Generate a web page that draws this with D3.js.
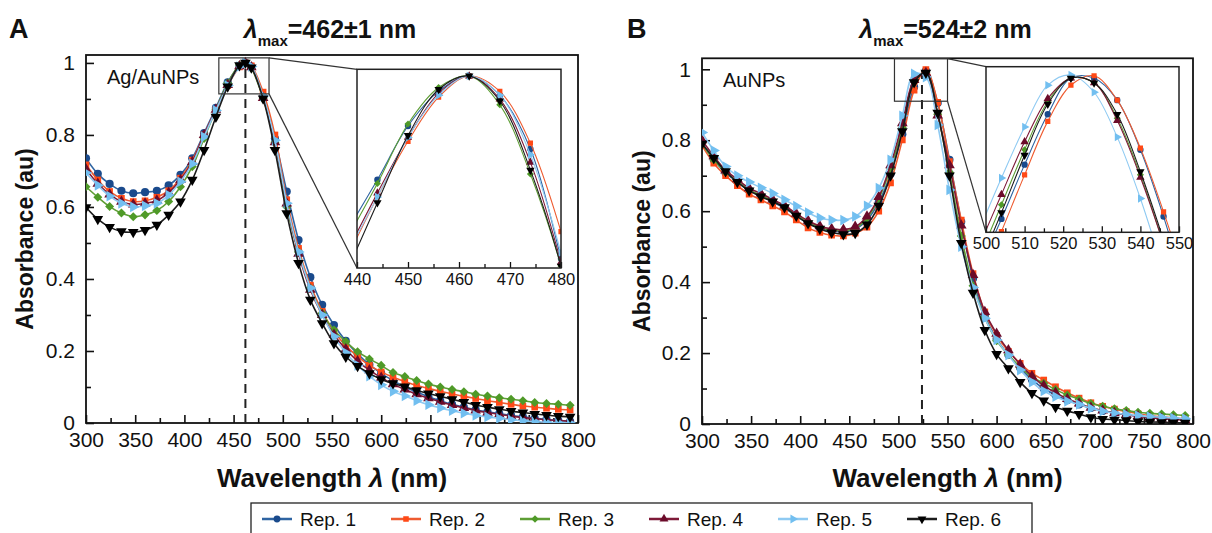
<!DOCTYPE html>
<html><head><meta charset="utf-8">
<script src="https://cdn.jsdelivr.net/npm/d3@7"></script>
<style>body{margin:0;background:#fff}svg{display:block;font-family:"Liberation Sans",Arial,sans-serif}</style>
</head><body><svg id="c" width="1212" height="533"></svg>
<script>
// ---------- DATA ----------
const seriesNames = ["Rep. 1","Rep. 2","Rep. 3","Rep. 4","Rep. 5","Rep. 6"];
const xTicks = [300,350,400,450,500,550,600,650,700,750,800];
const yTicks = [0,0.2,0.4,0.6,0.8,1];
const insetTicksA = [440,450,460,470,480];
const insetTicksB = [500,510,520,530,540,550];

// Panel A (Ag/AuNPs)
const wavelengthsA = [300,312,324,336,348,360,372,384,396,408,420,432,444,456,462,468,480,492,504,516,528,540,552,564,576,588,600,612,624,636,648,660,672,684,696,708,720,732,744,756,768,780,792];
const rep1A = [.735,.692,.664,.645,.638,.641,.645,.660,.689,.735,.805,.875,.946,.992,1.0,.990,.905,.790,.643,.508,.405,.328,.272,.228,.192,.162,.138,.118,.100,.086,.073,.062,.052,.044,.037,.031,.026,.021,.017,.013,.010,.007,.005];
const rep2A = [.717,.675,.643,.624,.615,.617,.627,.645,.680,.730,.800,.870,.937,.989,1.0,.992,.919,.800,.620,.485,.383,.310,.255,.215,.185,.160,.142,.127,.115,.104,.096,.088,.081,.074,.068,.062,.057,.052,.047,.044,.041,.038,.036];
const rep3A = [.656,.627,.601,.583,.573,.578,.590,.615,.656,.712,.790,.870,.944,.994,1.0,.985,.901,.780,.600,.475,.375,.305,.258,.226,.198,.178,.160,.140,.129,.118,.108,.100,.093,.087,.080,.075,.070,.066,.062,.057,.054,.052,.049];
const rep4A = [.705,.665,.635,.615,.607,.610,.618,.640,.675,.725,.800,.870,.939,.991,1.0,.988,.903,.780,.610,.470,.370,.300,.245,.205,.172,.147,.126,.108,.093,.080,.069,.059,.050,.042,.035,.029,.024,.019,.015,.012,.009,.007,.005];
const rep5A = [.695,.660,.630,.610,.600,.603,.610,.633,.670,.720,.795,.868,.937,.990,1.0,.990,.908,.785,.610,.475,.375,.300,.240,.195,.160,.130,.106,.088,.075,.062,.051,.042,.034,.027,.021,.017,.013,.009,.006,.004,.002,.001,.000];
const rep6A = [.599,.566,.544,.532,.530,.536,.550,.578,.615,.675,.758,.850,.934,.993,1.0,.987,.901,.758,.582,.444,.342,.277,.221,.184,.158,.138,.121,.110,.101,.091,.082,.074,.066,.058,.050,.044,.038,.033,.029,.025,.022,.019,.017];

const insetWavelengthsA = [438,444,450,456,462,468,474,480,486];
const rep1InsetA = [.919,.946,.974,.992,1.0,.990,.962,.905,.840];
const rep2InsetA = [.905,.937,.966,.989,1.0,.992,.965,.919,.860];
const rep3InsetA = [.915,.944,.975,.994,1.0,.985,.949,.901,.835];
const rep4InsetA = [.908,.939,.968,.991,1.0,.988,.955,.903,.840];
const rep5InsetA = [.907,.937,.968,.990,1.0,.990,.959,.908,.845];
const rep6InsetA = [.898,.934,.969,.993,1.0,.987,.951,.901,.835];

// Panel B (AuNPs)
const wavelengthsB = [300,312,324,336,348,360,372,384,396,408,420,432,444,456,468,480,492,504,516,528,540,552,564,576,588,600,612,624,636,648,660,672,684,696,708,720,732,744,756,768,780,792];
const rep1B = [.790,.745,.708,.683,.658,.643,.626,.609,.587,.566,.552,.544,.542,.549,.575,.625,.705,.817,.950,.996,.905,.745,.570,.410,.305,.240,.195,.158,.125,.100,.082,.067,.055,.045,.037,.031,.026,.022,.019,.016,.014,.012];
const rep2B = [.785,.735,.700,.672,.648,.632,.615,.598,.575,.553,.540,.532,.530,.538,.555,.600,.680,.801,.941,.999,.907,.740,.575,.424,.316,.250,.205,.171,.143,.124,.105,.088,.073,.060,.050,.042,.035,.029,.024,.020,.017,.014];
const rep3B = [.790,.745,.710,.685,.660,.645,.628,.612,.590,.570,.555,.547,.545,.552,.580,.635,.720,.835,.966,.990,.873,.710,.530,.390,.300,.235,.195,.160,.133,.115,.097,.082,.070,.058,.050,.043,.038,.033,.030,.028,.026,.024];
const rep4B = [.800,.755,.715,.690,.665,.650,.633,.616,.593,.573,.558,.550,.548,.556,.585,.640,.730,.848,.970,.990,.870,.730,.560,.420,.316,.255,.208,.168,.135,.108,.088,.071,.058,.046,.038,.031,.026,.022,.018,.015,.013,.011];
const rep5B = [.822,.771,.726,.700,.682,.666,.650,.632,.614,.596,.581,.575,.575,.585,.615,.665,.745,.869,.987,.978,.843,.660,.500,.385,.298,.237,.194,.152,.118,.093,.077,.064,.055,.044,.036,.031,.027,.024,.021,.019,.017,.015];
const rep6B = [.790,.750,.712,.682,.658,.641,.627,.611,.587,.566,.550,.540,.535,.538,.562,.615,.700,.825,.963,.990,.877,.700,.510,.370,.265,.197,.157,.118,.087,.066,.048,.037,.028,.019,.014,.012,.010,.007,.006,.005,.004,.003];

const insetWavelengthsB = [498,504,510,516,522,528,534,540,546,552];
const rep1InsetB = [.750,.817,.886,.950,.996,.996,.968,.905,.820,.720];
const rep2InsetB = [.730,.801,.873,.941,.987,.999,.968,.907,.826,.735];
const rep3InsetB = [.765,.835,.905,.966,.996,.990,.945,.873,.785,.690];
const rep4InsetB = [.780,.848,.915,.970,.996,.990,.942,.870,.785,.690];
const rep5InsetB = [.800,.869,.934,.987,1.0,.978,.921,.843,.750,.650];
const rep6InsetB = [.755,.825,.898,.963,.996,.990,.950,.877,.790,.695];

const peakA = 462, peakB = 524;

// ---------- STYLE ----------
const styles = [
  {line:"#2f64a2", fill:"#1a4a8c", sym:d3.symbolCircle, rot:0, k:1.0},
  {line:"#ee5b30", fill:"#ff4916", sym:d3.symbolSquare, rot:0, k:0.85},
  {line:"#5e9e35", fill:"#4f9a28", sym:d3.symbolDiamond2, rot:0, k:1.0},
  {line:"#7e1a38", fill:"#6b0b2a", sym:d3.symbolTriangle, rot:0, k:0.95},
  {line:"#8fcaf2", fill:"#72bff0", sym:d3.symbolTriangle, rot:90, k:0.95},
  {line:"#1c1c1c", fill:"#000000", sym:d3.symbolTriangle, rot:180, k:0.95}
];
const FONT = '"Liberation Sans", Arial, sans-serif';
const svg = d3.select("#c");

function drawSeries(g, x, y, wl, vals, s, size, lw, keep) {
  const line = d3.line().x((d,i)=>x(wl[i])).y(d=>y(d)).curve(d3.curveCatmullRom.alpha(0.5));
  g.append("path").datum(vals).attr("d", line).attr("fill","none")
    .attr("stroke", s.line).attr("stroke-width", lw);
  const sym = d3.symbol().type(s.sym).size(size*s.k);
  g.selectAll(null).data(vals.map((v,i)=>[wl[i],v]).filter(keep)).join("path")
    .attr("d", sym)
    .attr("transform", d=>`translate(${x(d[0])},${y(d[1])}) rotate(${s.rot})`)
    .attr("fill", s.fill);
}

function panel(cfg) {
  const x = d3.scaleLinear().domain([300,800]).range([cfg.x0, cfg.x1]);
  const y = d3.scaleLinear().domain([0, cfg.ytop]).range([cfg.y0, cfg.y1]);
  const g = svg.append("g");
  const cid = "clip"+cfg.id;
  svg.append("clipPath").attr("id", cid).append("rect")
    .attr("x", cfg.x0).attr("y", cfg.y1).attr("width", cfg.x1-cfg.x0).attr("height", cfg.y0-cfg.y1);

  // axes
  g.append("g").attr("transform",`translate(0,${cfg.y0})`)
    .call(d3.axisBottom(x).tickValues(xTicks).tickSize(-8).tickPadding(9).tickFormat(d3.format("d")));
  g.append("g").attr("transform",`translate(0,${cfg.y0})`)
    .call(d3.axisBottom(x).tickValues(d3.range(325,800,50)).tickSize(-5).tickFormat(""));
  g.append("g").attr("transform",`translate(${cfg.x0},0)`)
    .call(d3.axisLeft(y).tickValues(yTicks).tickSize(-8).tickPadding(11)
      .tickFormat(d=> d===0?"0":(d===1?"1":d.toFixed(1))));
  g.append("g").attr("transform",`translate(${cfg.x0},0)`)
    .call(d3.axisLeft(y).tickValues([0.1,0.3,0.5,0.7,0.9]).tickSize(-5).tickFormat(""));
  g.selectAll(".domain").remove();
  g.selectAll(".tick line").attr("stroke","#111").attr("stroke-width",1.6);
  g.selectAll(".tick text").attr("font-family",FONT).attr("font-size",21).attr("fill","#111");

  // frame
  g.append("rect").attr("x",cfg.x0).attr("y",cfg.y1).attr("width",cfg.x1-cfg.x0).attr("height",cfg.y0-cfg.y1)
    .attr("fill","none").attr("stroke","#111").attr("stroke-width",1.8);

  // dashed peak line
  g.append("line").attr("x1",x(cfg.peak)).attr("x2",x(cfg.peak)).attr("y1",y(0)).attr("y2",y(1))
    .attr("stroke","#222").attr("stroke-width",2).attr("stroke-dasharray","9,6");

  // curves
  const gc = g.append("g").attr("clip-path",`url(#${cid})`);
  cfg.series.forEach((vals,i)=> drawSeries(gc, x, y, cfg.wl, vals, styles[i], 52, 1.6, ()=>true));

  // zoom box
  const bx0 = x(cfg.box[0]), bx1 = x(cfg.box[1]), by0 = y(cfg.box[3]), by1 = y(cfg.box[2]);
  g.append("rect").attr("x",bx0).attr("y",by0).attr("width",bx1-bx0).attr("height",by1-by0)
    .attr("fill","none").attr("stroke","#333").attr("stroke-width",1.2);

  // inset
  const ix = d3.scaleLinear().domain(cfg.inset.xd).range(cfg.inset.xr);
  const iy = d3.scaleLinear().domain(cfg.inset.yd).range(cfg.inset.yr);
  g.append("line").attr("x1",bx1).attr("y1",by0).attr("x2",cfg.inset.xr[0]).attr("y2",cfg.inset.yr[1])
    .attr("stroke","#333").attr("stroke-width",1.2);
  g.append("line").attr("x1",bx1).attr("y1",by1).attr("x2",cfg.inset.xr[0]).attr("y2",cfg.inset.yr[0])
    .attr("stroke","#333").attr("stroke-width",1.2);
  const gi = g.append("g");
  gi.append("rect").attr("x",cfg.inset.xr[0]).attr("y",cfg.inset.yr[1])
    .attr("width",cfg.inset.xr[1]-cfg.inset.xr[0]).attr("height",cfg.inset.yr[0]-cfg.inset.yr[1]).attr("fill","#fff");
  const icid = "iclip"+cfg.id;
  svg.append("clipPath").attr("id", icid).append("rect")
    .attr("x",cfg.inset.xr[0]).attr("y",cfg.inset.yr[1]-4)
    .attr("width",cfg.inset.xr[1]-cfg.inset.xr[0]).attr("height",cfg.inset.yr[0]-cfg.inset.yr[1]+4);
  const gic = gi.append("g").attr("clip-path",`url(#${icid})`);
  cfg.insetSeries.forEach((vals,i)=> drawSeries(gic, ix, iy, cfg.inset.wl, vals, styles[i], 32, 1.1,
    d=> d[0]>=cfg.inset.xd[0]+2 && d[0]<=cfg.inset.xd[1]));
  gi.append("g").attr("transform",`translate(0,${cfg.inset.yr[0]})`)
    .call(d3.axisBottom(ix).tickValues(cfg.inset.ticks).tickSize(-6).tickPadding(5).tickFormat(d3.format("d")));
  gi.append("g").attr("transform",`translate(0,${cfg.inset.yr[0]})`)
    .call(d3.axisBottom(ix).tickValues(cfg.inset.ticks.slice(0,-1).map(t=>t+5)).tickSize(-4).tickFormat(""));
  gi.selectAll(".domain").remove();
  gi.selectAll(".tick line").attr("stroke","#111").attr("stroke-width",1.3);
  gi.selectAll(".tick text").attr("font-family",FONT).attr("font-size",16.5).attr("fill","#111");
  gi.append("rect").attr("x",cfg.inset.xr[0]).attr("y",cfg.inset.yr[1])
    .attr("width",cfg.inset.xr[1]-cfg.inset.xr[0]).attr("height",cfg.inset.yr[0]-cfg.inset.yr[1])
    .attr("fill","none").attr("stroke","#222").attr("stroke-width",1.5);

  // texts
  svg.append("text").attr("x",cfg.labelX).attr("y",38).attr("font-family",FONT).attr("font-weight","bold")
    .attr("font-size",27).attr("fill","#111").text(cfg.label);
  const t = svg.append("text").attr("x",(cfg.x0+cfg.x1)/2 - 2).attr("y",38).attr("text-anchor","middle")
    .attr("font-family",FONT).attr("font-weight","bold").attr("font-size",25).attr("fill","#111");
  t.append("tspan").attr("font-style","italic").text("λ");
  t.append("tspan").attr("font-size",15).attr("dy",8).text("max");
  t.append("tspan").attr("dy",-8).text(cfg.title);
  svg.append("text").attr("x",cfg.x0+21).attr("y",cfg.y1+29).attr("font-family",FONT).attr("font-size",20)
    .attr("fill","#111").text(cfg.tag);
  const xl = svg.append("text").attr("x",(cfg.x0+cfg.x1)/2).attr("y",487).attr("text-anchor","middle")
    .attr("font-family",FONT).attr("font-weight","bold").attr("font-size",26).attr("fill","#111");
  xl.append("tspan").text("Wavelength ");
  xl.append("tspan").attr("font-style","italic").text("λ");
  xl.append("tspan").text(" (nm)");
  svg.append("text").attr("transform",`translate(${cfg.ylabX},${(cfg.y0+cfg.y1)/2}) rotate(-90)`)
    .attr("text-anchor","middle").attr("font-family",FONT).attr("font-weight","bold").attr("font-size",23)
    .attr("fill","#111").text("Absorbance (au)");
}

panel({id:"A", x0:86, x1:578, y0:423, y1:55, ytop:1.022, peak:peakA, wl:wavelengthsA,
  series:[rep1A,rep2A,rep3A,rep4A,rep5A,rep6A], box:[435,486,0.914,1.014],
  inset:{xd:[440,480], xr:[357,561], yd:[0.9,1.0035], yr:[268,69.3], ticks:insetTicksA, wl:insetWavelengthsA},
  insetSeries:[rep1InsetA,rep2InsetA,rep3InsetA,rep4InsetA,rep5InsetA,rep6InsetA],
  label:"A", labelX:9, title:"=462±1 nm", tag:"Ag/AuNPs", ylabX:33});
panel({id:"B", x0:702, x1:1193, y0:424, y1:58.3, ytop:1.031, peak:peakB, wl:wavelengthsB,
  series:[rep1B,rep2B,rep3B,rep4B,rep5B,rep6B], box:[496,550,0.91,1.03],
  inset:{xd:[500,550], xr:[986,1179], yd:[0.8,1.0105], yr:[232.3,66.7], ticks:insetTicksB, wl:insetWavelengthsB},
  insetSeries:[rep1InsetB,rep2InsetB,rep3InsetB,rep4InsetB,rep5InsetB,rep6InsetB],
  label:"B", labelX:627, title:"=524±2 nm", tag:"AuNPs", ylabX:650});

// legend
const lg = svg.append("g");
lg.append("rect").attr("x",251).attr("y",503).attr("width",781).attr("height",40)
  .attr("fill","#fff").attr("stroke","#222").attr("stroke-width",1.3);
seriesNames.forEach((name,i)=>{
  const x0 = 262 + i*129, yc = 519;
  lg.append("line").attr("x1",x0).attr("x2",x0+30).attr("y1",yc).attr("y2",yc)
    .attr("stroke",styles[i].line).attr("stroke-width",2.5);
  lg.append("path").attr("d", d3.symbol().type(styles[i].sym).size(36*styles[i].k)())
    .attr("transform",`translate(${x0+15},${yc}) rotate(${styles[i].rot})`).attr("fill",styles[i].fill);
  lg.append("text").attr("x",x0+38).attr("y",yc+7).attr("font-family",FONT).attr("font-size",19)
    .attr("fill","#111").text(name);
});
</script></body></html>
